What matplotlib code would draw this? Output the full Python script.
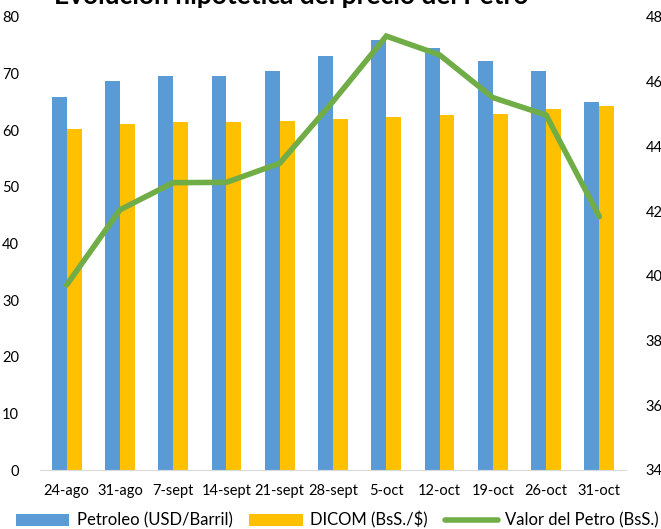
import numpy as np
import matplotlib.pyplot as plt

fechas = ['24-ago', '31-ago', '7-sept', '14-sept', '21-sept', '28-sept',
          '5-oct', '12-oct', '19-oct', '26-oct', '31-oct']
petroleo = [65.9, 68.7, 69.6, 69.6, 70.5, 73.1, 75.9, 74.5, 72.3, 70.4, 65.0]
dicom = [60.2, 61.1, 61.5, 61.5, 61.6, 61.9, 62.3, 62.7, 62.8, 63.8, 64.2]
petro = [397.2, 420.4, 428.8, 428.9, 434.8, 453.9, 474.1, 468.3, 455.1, 449.7, 418.3]

plt.rcParams['font.family'] = ['Lato', 'DejaVu Sans']

fig = plt.figure(figsize=(6.61, 5.29), dpi=100)
ax = fig.add_axes([40 / 661, 1 - 470 / 529, 586 / 661, 453 / 529])
ax2 = ax.twinx()

x = np.arange(len(fechas))
w = 0.28
ax.bar(x - w / 2, petroleo, w, color='#5B9BD5', label='Petroleo (USD/Barril)')
ax.bar(x + w / 2, dicom, w, color='#FFC000', label='DICOM (BsS./$)')
ax2.plot(x, petro, color='#70AD47', lw=4, solid_capstyle='round',
         solid_joinstyle='miter', label='Valor del Petro (BsS.)')

ax.set_xlim(-0.5, len(fechas) - 0.5)
ax.set_ylim(0, 80)
ax2.set_ylim(340, 480)
ax.set_yticks(range(0, 81, 10))
ax2.set_yticks(range(340, 481, 20))
ax.set_xticks(x)
ax.set_xticklabels(fechas)

for a in (ax, ax2):
    for s in a.spines.values():
        s.set_visible(False)
    a.tick_params(length=0, labelsize=10.5, colors='#000000')
ax.spines['bottom'].set_visible(True)
ax.spines['bottom'].set_color('#D9D9D9')
ax.tick_params(axis='y', pad=15)
ax2.tick_params(axis='y', pad=14)
ax.tick_params(axis='x', pad=10)

# title sits mostly above the visible area, as in the reference crop
fig.text(291.5 / 661, 1 - 4 / 529, 'Evolución hipotética del precio del Petro',
         ha='center', va='baseline', fontsize=19, fontweight='bold')

h1, l1 = ax.get_legend_handles_labels()
h2, l2 = ax2.get_legend_handles_labels()
fig.legend(h1 + h2, l1 + l2, loc='center left', bbox_to_anchor=(16 / 661, 1 - 520 / 529),
           ncol=3, frameon=False, fontsize=12, borderpad=0, borderaxespad=0,
           handlelength=3.2, handleheight=0.7, handletextpad=0.45, columnspacing=1.0)

fig.savefig('out.png', dpi=100)
